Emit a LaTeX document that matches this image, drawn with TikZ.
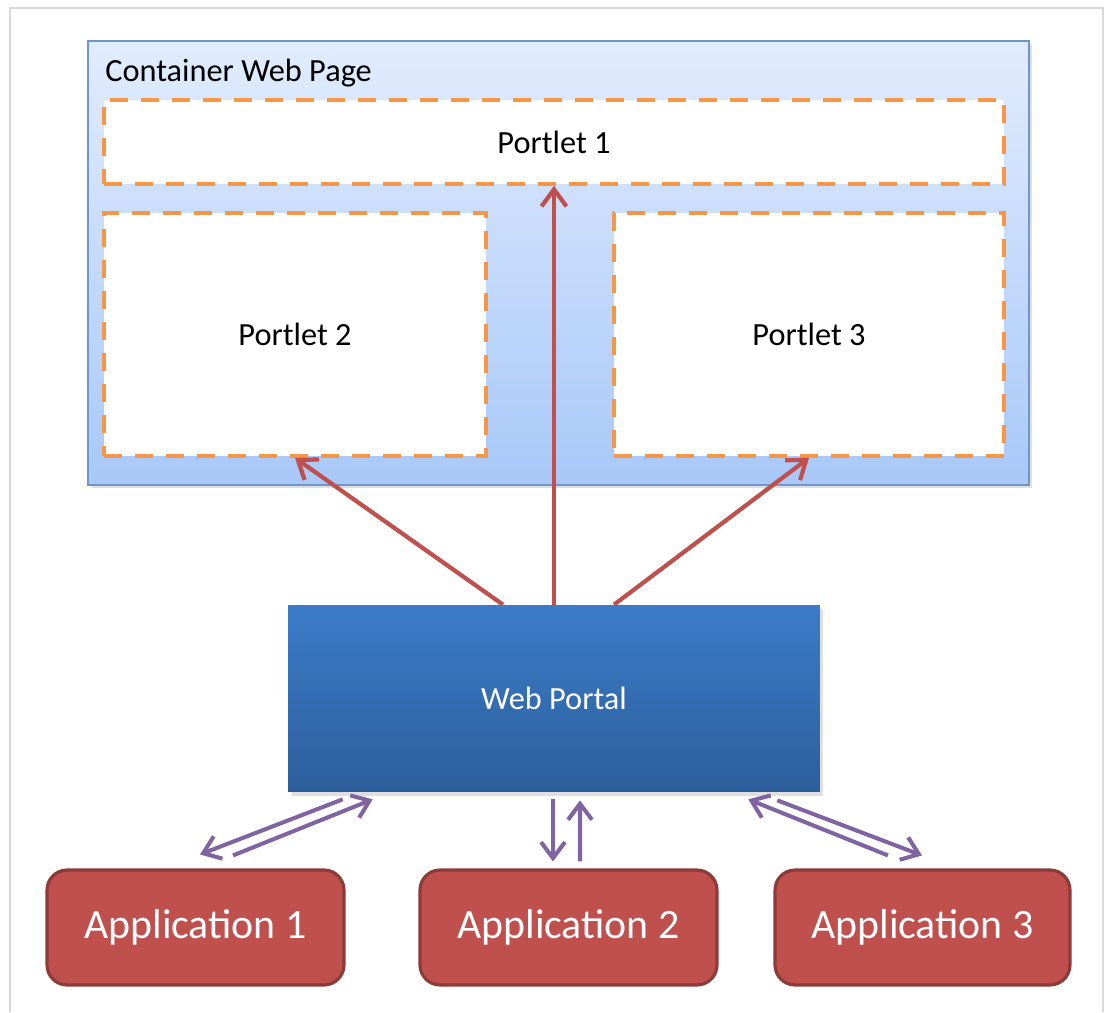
\documentclass[tikz,border=0pt]{standalone}
\usepackage{fontspec}
\setmainfont{Carlito}
\usepackage{xcolor}
\usepackage{tikz}
\usetikzlibrary{arrows.meta,calc,shadows}
\definecolor{naranja}{HTML}{F79646}
\definecolor{rojo}{HTML}{C0504D}
\definecolor{rojooscuro}{HTML}{8C3B39}
\definecolor{morado}{HTML}{8064A2}
\definecolor{azulclaro}{HTML}{E1ECFD}
\definecolor{azulmedio}{HTML}{A8C8F9}
\definecolor{azulborde}{HTML}{6F95C9}
\definecolor{azulportal}{HTML}{3B7CC9}
\definecolor{azulportalb}{HTML}{2D5E9C}
\tikzset{
  portlet/.style={rectangle,draw=naranja,fill=white,line width=2.1pt,
    dash pattern=on 0.36cm off 0.26cm,inner sep=0pt,
    minimum height=4.86cm,font=\fontsize{18.4}{22}\selectfont},
  aplicacion/.style={rectangle,rounded corners=0.4cm,draw=rojooscuro,fill=rojo,
    line width=1.8pt,minimum width=5.94cm,minimum height=2.3cm,inner sep=0pt,
    text=white,font=\fontsize{23.8}{28}\selectfont},
  flechaportlet/.style={-{Straight Barb[length=3.4mm,width=5mm]},draw=rojo,line width=2.4pt},
  flechaapp/.style={-{Straight Barb[length=3.2mm,width=4.8mm]},draw=morado,line width=2.3pt}
}
\begin{document}
\begin{tikzpicture}[
  x=0.02cm,y=-0.02cm,
  contenedor/.style={rectangle,draw=azulborde,line width=0.8pt,
    top color=azulclaro,bottom color=azulmedio,inner sep=0pt,
    minimum width=18.82cm,minimum height=8.88cm,
    drop shadow={shadow xshift=2pt,shadow yshift=-2pt,opacity=0.25}},
  portal/.style={rectangle,draw=none,
    top color=azulportal,bottom color=azulportalb,inner sep=0pt,
    minimum width=10.64cm,minimum height=3.74cm,text=white,
    font=\fontsize{18.4}{22}\selectfont,
    drop shadow={shadow xshift=2pt,shadow yshift=-2pt,opacity=0.25}},
  marco/.style={draw=black!15,line width=0.8pt}
]
\useasboundingbox (0,0) rectangle (1106,1012);
\draw[marco] (10,1012) -- (10,8) -- (1103,8) -- (1103,1012);

% 1. Pagina contenedora con sus tres portlets
\node[contenedor] (pagina) at (558.5,263) {};
\node[anchor=base west,inner sep=0pt,font=\fontsize{18.4}{22}\selectfont] (titulo) at (105,81) {Container Web Page};
\node[portlet,minimum width=18cm,minimum height=1.68cm] (portlet1) at (554,142) {Portlet 1};
\node[portlet,minimum width=7.64cm] (portlet2) at (295,334.5) {Portlet 2};
\node[portlet,minimum width=7.8cm] (portlet3) at (809,334.5) {Portlet 3};

% 2. Portal web
\node[portal] (portal) at (554,698.5) {Web Portal};

\draw[flechaportlet] ($(portal.north)+(-51,0)$) -- (portlet2.south);
\draw[flechaportlet] (portal.north) -- (portlet1.south);
\draw[flechaportlet] ($(portal.north)+(60,0)$) -- (portlet3.south);

% 3. Aplicaciones y sus intercambios con el portal
\node[aplicacion] (app1) at (195.5,927.5) {Application 1};
\node[aplicacion] (app2) at (568.5,927.5) {Application 2};
\node[aplicacion,minimum width=5.9cm] (app3) at (922.5,927.5) {Application 3};

\draw[flechaapp] ($(portal.south west)+(55,7)$) -- ($(app1.north)+(4.5,-14)$);
\draw[flechaapp] ($(app1.north)+(37.5,-13)$) -- ($(portal.south west)+(85,7)$);
\draw[flechaapp] ($(portal.south)+(-1,7)$) -- ($(app2.north)+(-15.5,-7)$);
\draw[flechaapp] ($(app2.north)+(11.5,-7)$) -- ($(portal.south)+(26,8)$);
\draw[flechaapp] ($(app3.north)+(-34.5,-13)$) -- ($(portal.south east)+(-72,7)$);
\draw[flechaapp] ($(portal.south east)+(-43,8)$) -- ($(app3.north)+(-0.5,-13)$);

\end{tikzpicture}
\end{document}
